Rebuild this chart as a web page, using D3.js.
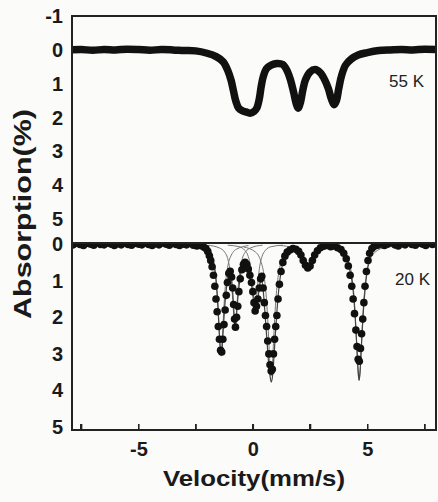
<!DOCTYPE html>
<html>
<head>
<meta charset="utf-8">
<script src="https://cdn.jsdelivr.net/npm/d3@7"></script>
<style>
  body { margin: 0; background: #fbfbf9; }
  #chart { position: relative; width: 438px; height: 502px; }
  svg { display: block; }
  .edge { position: absolute; background: #222; pointer-events: none; }
</style>
</head>
<body>
<div id="chart"></div>
<script>
// 55 K spectrum (velocity mm/s, absorption %)
const vel55 = [-7.9, -7.5, -7.0, -6.5, -6.0, -5.5, -5.0, -4.5, -4.0, -3.5, -3.0, -2.5, -2.0, -1.6, -1.3, -1.1, -0.95, -0.85,
    -0.75, -0.62, -0.45, -0.3, -0.13, 0.05, 0.17, 0.28, 0.36, 0.45, 0.6, 0.8, 1.05, 1.3, 1.5, 1.65, 1.78, 1.9, 1.98,
    2.08, 2.18, 2.3, 2.5, 2.72, 2.95, 3.15, 3.3, 3.43, 3.55, 3.65, 3.75, 3.88, 4.05, 4.3, 4.6, 5.0, 5.5, 6.0, 6.5, 7.0, 7.5, 8.0];
const abs55 = [0.0, -0.01, 0.01, -0.01, 0.0, -0.02, -0.01, 0.01, -0.01, 0.0, 0.02, 0.03, 0.1, 0.2, 0.35, 0.6, 0.9, 1.2,
    1.5, 1.72, 1.8, 1.83, 1.87, 1.82, 1.72, 1.45, 1.1, 0.8, 0.55, 0.45, 0.4, 0.43, 0.62, 0.9, 1.25, 1.6, 1.72,
    1.55, 1.2, 0.88, 0.65, 0.58, 0.68, 0.9, 1.15, 1.45, 1.62, 1.5, 1.15, 0.75, 0.45, 0.27, 0.15, 0.08, 0.02, 0.0, -0.01, 0.0, -0.02, -0.01];

// 20 K spectrum, measured points
const vel20 = [-7.85, -7.7, -7.55, -7.4, -7.25, -7.1, -6.95, -6.8, -6.65, -6.5, -6.35, -6.2, -6.05, -5.9, -5.75, -5.6, -5.45,
    -5.3, -5.15, -5.0, -4.85, -4.7, -4.55, -4.4, -4.25, -4.1, -3.95, -3.8, -3.65, -3.5, -3.35, -3.2, -3.05, -2.9, -2.75,
    -2.6, -2.45, -2.3, -2.15,
    -2.05, -1.97, -1.9, -1.84, -1.78, -1.72, -1.66, -1.61, -1.56, -1.51, -1.46, -1.41, -1.36, -1.31, -1.26, -1.21, -1.16,
    -1.11, -1.05, -0.99, -0.93, -0.88, -0.84, -0.8, -0.76, -0.71, -0.66, -0.61, -0.55, -0.48, -0.41, -0.34, -0.27, -0.2,
    -0.13, -0.06, 0.0, 0.05, 0.1, 0.16, 0.22, 0.28, 0.34, 0.39, 0.45, 0.5, 0.55, 0.6, 0.65, 0.7, 0.75, 0.8, 0.85, 0.9,
    0.95, 1.0, 1.05, 1.1, 1.16, 1.23, 1.31, 1.4, 1.5, 1.62, 1.75, 1.88, 2.0, 2.1, 2.2, 2.3, 2.4, 2.5, 2.6, 2.7, 2.82,
    2.95, 3.1, 3.25, 3.4, 3.55, 3.7, 3.85, 3.97, 4.08, 4.17, 4.25, 4.32, 4.38, 4.44, 4.5, 4.55, 4.6, 4.65, 4.7, 4.75,
    4.8, 4.85, 4.9, 4.96, 5.03, 5.1, 5.2, 5.3,
    5.45, 5.6, 5.75, 5.9, 6.05, 6.2, 6.35, 6.5, 6.65, 6.8, 6.95, 7.1, 7.25, 7.4, 7.55, 7.7, 7.85];
const abs20 = [0.02, -0.03, 0.01, 0.04, -0.02, 0.0, 0.03, -0.04, 0.01, 0.02, -0.03, 0.0, 0.04, -0.01, 0.02, -0.04, 0.01,
    0.03, -0.02, 0.0, 0.02, -0.03, 0.01, 0.04, -0.01, 0.02, -0.03, 0.0, 0.03, -0.02, 0.01, 0.04, 0.0, 0.02, -0.02,
    0.03, 0.05, 0.04, 0.08,
    0.12, 0.2, 0.32, 0.45, 0.62, 0.85, 1.15, 1.5, 1.85, 2.25, 2.6, 2.9, 2.95, 2.6, 2.2, 1.8, 1.4,
    1.05, 0.8, 0.74, 0.9, 1.2, 1.65, 2.05, 2.27, 2.0, 1.7, 1.3, 0.95, 0.7, 0.55, 0.5, 0.55, 0.68,
    0.85, 1.05, 1.3, 1.6, 1.83, 1.7, 1.5, 1.2, 0.95, 0.88, 1.2, 1.6, 1.95, 2.25, 2.65, 3.0, 3.3, 3.47, 3.42, 3.0,
    2.6, 2.25, 1.95, 1.5, 1.1, 0.75, 0.5, 0.33, 0.22, 0.16, 0.12, 0.14, 0.2, 0.3, 0.45, 0.58, 0.65, 0.6, 0.45, 0.3, 0.18,
    0.1, 0.06, 0.04, 0.07, 0.05, 0.1, 0.15, 0.25, 0.4, 0.6, 0.85, 1.15, 1.5, 1.9, 2.35, 2.8, 3.15, 3.2, 2.85, 2.45,
    2.05, 1.6, 1.15, 0.75, 0.45, 0.25, 0.12, 0.06,
    0.03, -0.02, 0.04, 0.0, -0.04, 0.02, 0.05, -0.01, 0.02, -0.05, 0.01, 0.03, -0.03, 0.0, 0.04, -0.02, 0.01];

// 20 K total fit
const fitVel = [-7.9, -2.6, -2.2, -2.0, -1.85, -1.75, -1.65, -1.58, -1.52, -1.47, -1.42, -1.39, -1.35, -1.3, -1.24, -1.17,
    -1.1, -1.02, -0.95, -0.9, -0.85, -0.81, -0.78, -0.74, -0.69, -0.63, -0.55, -0.45, -0.35, -0.25, -0.15, -0.05, 0.02,
    0.08, 0.12, 0.18, 0.25, 0.32, 0.38, 0.45, 0.52, 0.6, 0.67, 0.74, 0.8, 0.86, 0.92, 0.98, 1.05, 1.13, 1.22, 1.32,
    1.45, 1.6, 1.8, 2.0, 2.15, 2.3, 2.42, 2.55, 2.7, 2.9, 3.2, 3.6, 3.9, 4.1, 4.25, 4.37, 4.47, 4.55, 4.61, 4.64, 4.68,
    4.74, 4.81, 4.9, 5.0, 5.12, 5.3, 5.6, 6.2, 7.0, 8.0];
const fitAbs = [0.0, 0.02, 0.06, 0.1, 0.2, 0.38, 0.75, 1.2, 1.8, 2.4, 2.9, 3.05, 2.9, 2.4, 1.8, 1.3,
    0.95, 0.78, 0.85, 1.15, 1.6, 2.05, 2.32, 2.15, 1.75, 1.3, 0.9, 0.62, 0.55, 0.62, 0.82, 1.15, 1.5,
    1.8, 1.88, 1.72, 1.35, 1.05, 0.98, 1.25, 1.8, 2.5, 3.1, 3.55, 3.77, 3.6, 3.1, 2.5, 1.85, 1.25, 0.8, 0.5,
    0.3, 0.2, 0.16, 0.22, 0.38, 0.58, 0.68, 0.58, 0.35, 0.16, 0.08, 0.08, 0.15, 0.38, 0.75, 1.2, 2.0, 2.9, 3.55, 3.72, 3.5,
    2.8, 2.0, 1.25, 0.7, 0.35, 0.16, 0.07, 0.03, 0.01, 0.0];

// 20 K sub-spectra components, [velocity, absorption]
const comp1 = [[-2.59, .04], [-2.09, .13], [-1.84, .30], [-1.69, .59], [-1.59, 1.06], [-1.54, 1.48], [-1.49, 2.04], [-1.44, 2.66],
    [-1.39, 2.95], [-1.34, 2.66], [-1.29, 2.04], [-1.24, 1.48], [-1.19, 1.06], [-1.09, .59], [-0.94, .30], [-0.69, .13], [-0.19, .04]];
const comp2 = [[-1.98, .03], [-1.48, .10], [-1.23, .22], [-1.08, .44], [-0.98, .79], [-0.93, 1.1], [-0.88, 1.52], [-0.83, 1.98],
    [-0.78, 2.2], [-0.73, 1.98], [-0.68, 1.52], [-0.63, 1.1], [-0.58, .79], [-0.48, .44], [-0.33, .22], [-0.08, .10], [0.42, .03]];
const comp3 = [[-1.1, .03], [-0.6, .07], [-0.35, .17], [-0.2, .34], [-0.1, .61], [-0.05, .85], [0.0, 1.18], [0.05, 1.53],
    [0.1, 1.7], [0.15, 1.53], [0.2, 1.18], [0.25, .85], [0.3, .61], [0.4, .34], [0.55, .17], [0.8, .07], [1.3, .03]];
const comp4 = [[-0.4, .08], [0.1, .21], [0.35, .47], [0.5, .91], [0.6, 1.56], [0.65, 2.07], [0.7, 2.71], [0.75, 3.33],
    [0.8, 3.6], [0.85, 3.33], [0.9, 2.71], [0.95, 2.07], [1.0, 1.56], [1.1, .91], [1.25, .47], [1.5, .21], [2.0, .08]];
const comp5 = [[1.22, .04], [1.72, .1], [1.97, .19], [2.12, .31], [2.22, .43], [2.32, .56], [2.42, .62], [2.52, .56],
    [2.62, .43], [2.72, .31], [2.87, .19], [3.12, .1], [3.62, .04]];
const comp6 = [[3.44, .08], [3.94, .22], [4.19, .49], [4.34, .94], [4.44, 1.61], [4.49, 2.14], [4.54, 2.8], [4.59, 3.44],
    [4.64, 3.72], [4.69, 3.44], [4.74, 2.8], [4.79, 2.14], [4.84, 1.61], [4.94, .94], [5.09, .49], [5.34, .22], [5.84, .08]];

const xTicks = [-7.5, -5, -2.5, 0, 2.5, 5, 7.5];
const xLabels = [-5, 0, 5];
const yTicksTop = [-1, 0, 1, 2, 3, 4, 5];
const yTicksBottom = [0, 1, 2, 3, 4, 5];

const fontFam = "'Liberation Sans', Arial, sans-serif";
const ink = "#222";

let chart = d3.select("#chart");
let svg = chart.append("svg")
    .attr("width", 438)
    .attr("height", 502);

let x = d3.scaleLinear().domain([-7.9, 8.0]).range([72, 436]);
let yTop = d3.scaleLinear().domain([-1, 5.7]).range([16, 243]);
let yBot = d3.scaleLinear().domain([-0.03, 5.08]).range([243, 430]);

let px0 = x.range()[0], px1 = x.range()[1];
let panels = [yTop.range(), yBot.range()];

let defs = svg.append("defs");
defs.append("clipPath").attr("id", "clipTop")
    .append("rect").attr("x", px0).attr("y", panels[0][0]).attr("width", px1 - px0).attr("height", panels[0][1] - panels[0][0]);
defs.append("clipPath").attr("id", "clipBot")
    .append("rect").attr("x", px0).attr("y", panels[1][0]).attr("width", px1 - px0).attr("height", panels[1][1] - panels[1][0]);

// axes
let xAxis = svg.append("g")
    .attr("transform", "translate(0," + panels[1][1] + ")")
    .call(d3.axisBottom(x).tickValues(xTicks).tickSizeInner(-6).tickSizeOuter(0).tickPadding(12)
        .tickFormat(d => xLabels.includes(d) ? String(d) : ""));
xAxis.selectAll(".tick line").attr("stroke", ink).attr("stroke-width", 1.4);

let yAxisTop = svg.append("g")
    .attr("transform", "translate(" + px0 + ",0)")
    .call(d3.axisLeft(yTop).tickValues(yTicksTop).tickSize(0).tickPadding(9).tickFormat(d => String(d)));

let yAxisBot = svg.append("g")
    .attr("transform", "translate(" + px0 + ",0)")
    .call(d3.axisLeft(yBot).tickValues(yTicksBottom).tickSize(0).tickPadding(9).tickFormat(d => String(d)));

[yAxisTop, yAxisBot].forEach(g => g.selectAll(".tick line").remove());

[xAxis, yAxisTop, yAxisBot].forEach(g => {
    g.select(".domain").remove();
    g.selectAll("text")
        .attr("font-family", fontFam)
        .attr("font-weight", "700")
        .attr("font-size", 20)
        .attr("fill", "#1a1a1a");
});

// upper panel: 55 K
let panelTop = svg.append("g").attr("clip-path", "url(#clipTop)");
let data55 = vel55.map((v, i) => ({v: v, a: abs55[i]}));
panelTop.append("path")
    .datum(data55)
    .attr("fill", "none")
    .attr("stroke", "#111")
    .attr("stroke-width", 7.5)
    .attr("stroke-linejoin", "round")
    .attr("stroke-linecap", "round")
    .attr("d", d3.line().x(d => x(d.v)).y(d => yTop(d.a)).curve(d3.curveCatmullRom.alpha(0.5)));

// lower panel: 20 K
let panelBot = svg.append("g").attr("clip-path", "url(#clipBot)");

let compLine = d3.line().x(d => x(d[0])).y(d => yBot(d[1])).curve(d3.curveMonotoneX);
panelBot.selectAll(".comp")
    .data([comp1, comp2, comp3, comp4, comp5, comp6])
    .enter()
    .append("path")
    .attr("class", "comp")
    .attr("fill", "none")
    .attr("stroke", "#777")
    .attr("stroke-width", 1)
    .attr("d", compLine);

let fitData = fitVel.map((v, i) => [v, fitAbs[i]]);
panelBot.append("path")
    .datum(fitData)
    .attr("fill", "none")
    .attr("stroke", "#444")
    .attr("stroke-width", 1.2)
    .attr("d", compLine);

let data20 = vel20.map((v, i) => ({v: v, a: abs20[i]}));
panelBot.selectAll(".pt")
    .data(data20)
    .enter()
    .append("circle")
    .attr("class", "pt")
    .attr("cx", d => x(d.v))
    .attr("cy", d => yBot(d.a))
    .attr("r", 3.8)
    .attr("fill", "#111");

// svg frames
panels.forEach(r => {
    svg.append("rect")
        .attr("x", px0).attr("y", r[0])
        .attr("width", px1 - px0).attr("height", r[1] - r[0])
        .attr("fill", "none").attr("stroke", ink).attr("stroke-width", 1.5);
});

// titles
svg.append("text")
    .attr("transform", "translate(31,214) rotate(-90)")
    .attr("text-anchor", "middle")
    .attr("textLength", 210)
    .attr("lengthAdjust", "spacingAndGlyphs")
    .attr("font-family", fontFam)
    .attr("font-weight", "700")
    .attr("font-size", 24)
    .attr("fill", "#1a1a1a")
    .text("Absorption(%)");

svg.append("text")
    .attr("x", 254)
    .attr("y", 486)
    .attr("text-anchor", "middle")
    .attr("textLength", 182)
    .attr("lengthAdjust", "spacingAndGlyphs")
    .attr("font-family", fontFam)
    .attr("font-weight", "700")
    .attr("font-size", 22)
    .attr("fill", "#1a1a1a")
    .text("Velocity(mm/s)");

svg.append("text")
    .attr("x", 424).attr("y", 87)
    .attr("text-anchor", "end")
    .attr("font-family", fontFam)
    .attr("font-size", 17)
    .attr("fill", "#222")
    .text("55 K");

svg.append("text")
    .attr("x", 430).attr("y", 285)
    .attr("text-anchor", "end")
    .attr("font-family", fontFam)
    .attr("font-size", 17)
    .attr("fill", "#222")
    .text("20 K");

// frame edges and x ticks as html overlays on top of the svg
let edgeList = [];
panels.forEach(r => {
    edgeList.push({l: px0 - 0.75, t: r[0] - 0.75, w: px1 - px0 + 1.5, h: 1.5});
    edgeList.push({l: px0 - 0.75, t: r[1] - 0.75, w: px1 - px0 + 1.5, h: 1.5});
    edgeList.push({l: px0 - 0.75, t: r[0] - 0.75, w: 1.5, h: r[1] - r[0] + 1.5});
    edgeList.push({l: px1 - 0.75, t: r[0] - 0.75, w: 1.5, h: r[1] - r[0] + 1.5});
});
xTicks.forEach(t => {
    edgeList.push({l: x(t) - 0.7, t: panels[1][1] - 6, w: 1.4, h: 6});
});

chart.selectAll(".edge")
    .data(edgeList)
    .enter()
    .append("div")
    .attr("class", "edge")
    .style("left", d => d.l + "px")
    .style("top", d => d.t + "px")
    .style("width", d => d.w + "px")
    .style("height", d => d.h + "px");
</script>
</body>
</html>
